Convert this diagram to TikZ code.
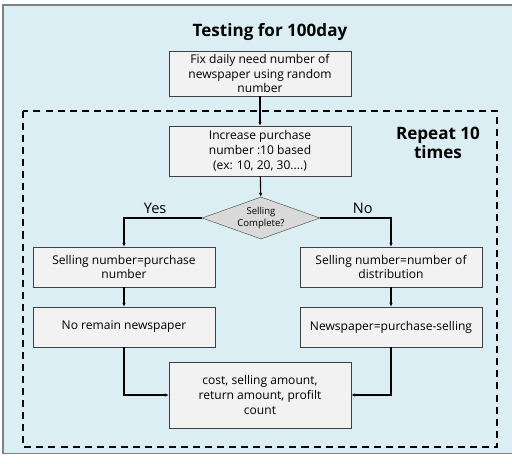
\documentclass[tikz,border=0pt]{standalone}
\usepackage{fontspec}
\setmainfont{Open Sans}
\usetikzlibrary{shapes.geometric, arrows.meta, positioning}
\definecolor{panelblue}{HTML}{DAEEF3}
\definecolor{boxgray}{HTML}{F2F2F2}
\definecolor{diagray}{HTML}{D9D9D9}
\definecolor{edgegray}{HTML}{404040}

\begin{document}
\begin{tikzpicture}[x=0.035cm,y=-0.035cm,
		box/.style = {draw=edgegray,fill=boxgray,align=center,minimum width=6.37cm,font=\fontsize{12}{14.6}\selectfont},
		decision/.style = {diamond,draw=edgegray,fill=diagray,aspect=2.8,minimum width=4.13cm,minimum height=1.47cm,inner sep=0pt,align=center,font=\fontsize{9.5}{11}\selectfont},
		flow/.style = {line width=1.1pt,-{Latex[length=4pt,width=3.5pt]}},
		branch/.style = {font=\fontsize{14.5}{16}\selectfont}]
		\useasboundingbox (0,0) rectangle (512,464);
		\fill[panelblue] (3,5) rectangle (512,453);
		\draw[gray, line width=1pt] (512,5) -- (3,5) -- (3,453) -- (512,453);
		\draw[dashed, line width=1.3pt, dash pattern=on 7pt off 5pt] (23,111) rectangle (497,447);
		\node (title) at (270,32) {\fontsize{17}{20}\selectfont\bfseries Testing for 100day};
		\node [box, minimum height=1.575cm] (fix) at (260,73.5) {Fix daily need number of\\newspaper using random\\number};
		\node [box, minimum height=1.75cm] (incr) at (260,151) {Increase purchase\\number :10 based\\(ex: 10, 20, 30....)};
		\node [align=center, font=\fontsize{17}{19.5}\selectfont\bfseries] (repeat) at (438,143) {Repeat 10\\times};
		\node [decision] (sell) at (261,218) {Selling\\Complete?};
		\node [box, minimum height=1.4cm] (selleft) at (124,267) {Selling number=purchase\\number};
		\node [box, minimum height=1.4cm] (selright) at (391,267) {Selling number=number of\\distribution};
		\node [box, minimum height=1.4cm] (noremain) at (124,327) {No remain newspaper};
		\node [box, minimum height=1.4cm] (remain) at (391,327) {Newspaper=purchase-selling};
		\node [box, minimum height=2.31cm] (result) at (260,395) {cost, selling amount,\\return amount, profilt\\count};
		\draw[flow] (fix) -- (incr);
		\draw[flow] (incr) -- (sell);
		\draw[flow] (sell.west) -| node[branch, pos=0.3, above] {Yes} (selleft.north);
		\draw[flow] (sell.east) -| node[branch, pos=0.3, above] {No} (selright.north);
		\draw[flow] (selleft) -- (noremain);
		\draw[flow] (selright) -- (remain);
		\draw[flow] (noremain.south) |- (result.west);
		\draw[flow] (remain.south) |- (result.east);
	\end{tikzpicture}
\end{document}
